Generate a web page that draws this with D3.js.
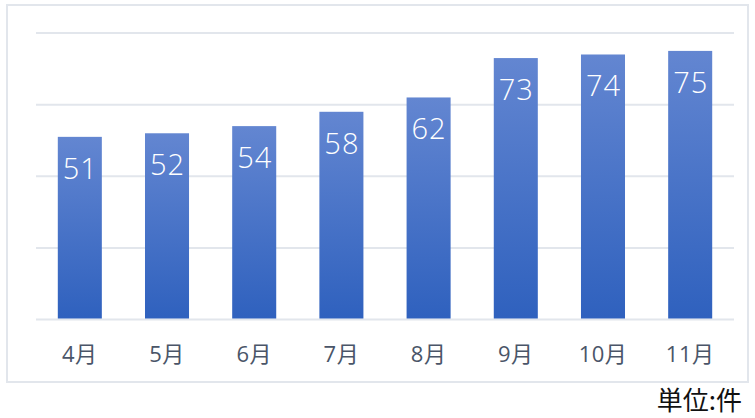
<!DOCTYPE html>
<html><head><meta charset="utf-8">
<script src="https://cdn.jsdelivr.net/npm/d3@7"></script>
<style>
body{margin:0;background:#fff;}
svg{display:block;}
</style></head>
<body>
<svg id="chart" width="755" height="418"></svg>
<script>
const categories = ["4月","5月","6月","7月","8月","9月","10月","11月"];
const values = [51,52,54,58,62,73,74,75];
const yTicks = [0,20,40,60,80];
const unitLabel = "単位:件";

(function(){
const svg = d3.select("#chart");
const fontCJK = "'Noto Sans CJK JP','Noto Sans',sans-serif";
const fontNum = "'Open Sans','Noto Sans CJK JP',sans-serif";

svg.append("rect").attr("x",7).attr("y",5).attr("width",741).attr("height",377)
  .attr("fill","#fff").attr("stroke","#e2e6ec").attr("stroke-width",2);

const defs = svg.append("defs");
const grad = defs.append("linearGradient").attr("id","barGrad")
  .attr("x1",0).attr("y1",0).attr("x2",0).attr("y2",1);
grad.append("stop").attr("offset","0%").attr("stop-color","#6386d1");
grad.append("stop").attr("offset","100%").attr("stop-color","#2f61be");

const pLeft=36, pRight=734, pTop=33, pBottom=319.5;
const x = d3.scaleBand().domain(categories).range([pLeft,pRight]).paddingInner(0.495).paddingOuter(0.25);
const y = d3.scaleLinear().domain([0,80]).range([pBottom,pTop]);

svg.append("g").selectAll("line").data(yTicks).join("line")
  .attr("x1",pLeft).attr("x2",pRight)
  .attr("y1",d=>y(d)).attr("y2",d=>y(d))
  .attr("stroke","#e2e6ec").attr("stroke-width",2);

svg.append("g").selectAll("rect").data(values).join("rect")
  .attr("x",(d,i)=>x(categories[i]))
  .attr("y",d=>y(d))
  .attr("width",x.bandwidth())
  .attr("height",d=>pBottom-1-y(d))
  .attr("fill","url(#barGrad)");

svg.append("g").selectAll("text").data(values).join("text")
  .attr("x",(d,i)=>x(categories[i])+x.bandwidth()/2+0.5)
  .attr("y",d=>y(d)+42)
  .attr("text-anchor","middle")
  .attr("fill","#fff")
  .attr("font-family",fontNum)
  .attr("font-size",29)
  .attr("font-weight",300)
  .attr("letter-spacing",1)
  .text(d=>d);

const xAxis = d3.axisBottom(x).tickSize(0).tickPadding(0);
const gx = svg.append("g").attr("transform",`translate(0,${pBottom})`).call(xAxis);
gx.select(".domain").remove();
gx.selectAll("text")
  .attr("dy",0).attr("y",42)
  .attr("fill","#4a5568")
  .attr("font-family",fontNum)
  .attr("font-size",22)
  .attr("letter-spacing",0.5);

svg.append("text").attr("x",742).attr("y",410)
  .attr("text-anchor","end")
  .attr("fill","#111")
  .attr("font-family",fontCJK)
  .attr("font-size",26)
  .text(unitLabel);
})();
</script>
</body></html>
